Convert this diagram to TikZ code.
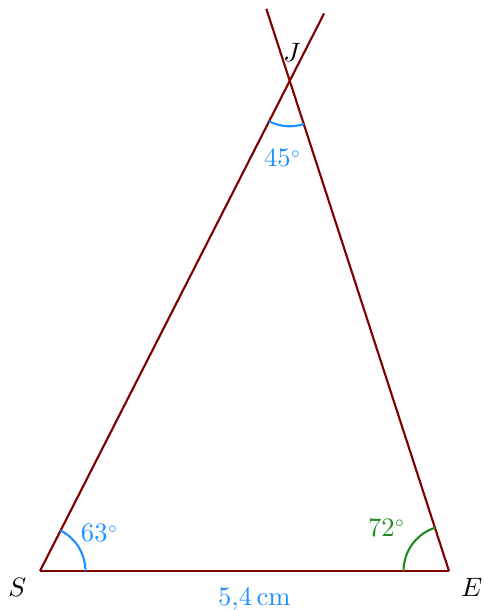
\documentclass[tikz,border=0pt]{standalone}
\usetikzlibrary{calc,positioning,angles}
\definecolor{sideC}{HTML}{800000}
\definecolor{angBlue}{HTML}{1E90FF}
\definecolor{angGreen}{HTML}{228B22}
\definecolor{ink}{HTML}{000000}
\newcommand{\dg}{{}^{\scriptscriptstyle\circ}}
\tikzset{
  % ---- triangle --------------------------------------------------
  sideln/.style   = {draw=sideC, line width=.8pt},
  vlab/.style     = {text=ink, inner sep=1pt},
  % ---- angles ----------------------------------------------------
  arcB/.style     = {draw=angBlue, line width=.8pt, angle radius=0.6cm},
  arcG/.style     = {draw=angGreen, line width=.8pt, angle radius=0.6cm},
  tagB/.style     = {text=angBlue, inner sep=1pt},
  tagG/.style     = {text=angGreen, inner sep=1pt},
}
\begin{document}
\begin{tikzpicture}
\useasboundingbox (-0.528,-0.515) rectangle (5.849,7.539);
\coordinate (S) at (0,0);
\coordinate (E) at (5.4,0);
\coordinate (J) at (63:7.263);
\coordinate (Jx) at ($(J)!-1cm!(S)$);
\coordinate (Jy) at ($(J)!-1cm!(E)$);
\draw[sideln] (S) -- (E);
\draw[sideln] (S) -- (Jx);
\draw[sideln] (E) -- (Jy);
\pic[arcB] {angle = E--S--J};
\pic[arcG] {angle = J--E--S};
\pic[arcB] {angle = S--J--E};
\node[vlab] (labS) at ($(S)+(-0.30,-0.22)$) {$S$};
\node[vlab] (labE) at ($(E)+(0.30,-0.22)$) {$E$};
\node[vlab] (labJ) at ($(J)+(0.03,0.38)$) {$J$};
\node[tagB] (tagS) at ($(S)+(0.79,0.50)$) {$63\dg$};
\node[tagG] (tagE) at ($(E)+(-0.82,0.57)$) {$72\dg$};
\node[tagB] (tagJ) at ($(J)+(-0.09,-1.02)$) {$45\dg$};
\node[tagB] (tagSE) at ($(S)+(2.83,-0.37)$) {$5{,}4\,\mathrm{cm}$};
\end{tikzpicture}
\end{document}
